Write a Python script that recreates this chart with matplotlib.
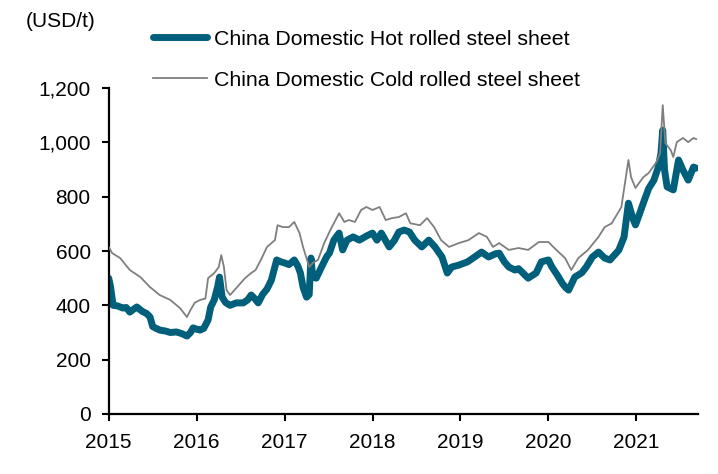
import matplotlib
matplotlib.use("Agg")
import matplotlib.pyplot as plt

plt.rcParams['font.family'] = ['Liberation Sans', 'DejaVu Sans']

# Hot rolled sheet price, USD/t (time in decimal years)
hot_t = [2015.00, 2015.02, 2015.05, 2015.10, 2015.16, 2015.20, 2015.24, 2015.28, 2015.32, 2015.38,
         2015.43, 2015.47, 2015.50, 2015.54, 2015.58, 2015.65, 2015.70, 2015.77, 2015.83, 2015.89,
         2015.93, 2015.96, 2016.00, 2016.04, 2016.08, 2016.13, 2016.16, 2016.20, 2016.24, 2016.26,
         2016.29, 2016.33, 2016.38, 2016.45, 2016.53, 2016.58, 2016.62, 2016.66, 2016.70, 2016.75,
         2016.80, 2016.85, 2016.91, 2016.96, 2017.00, 2017.05, 2017.11, 2017.15, 2017.18, 2017.21,
         2017.25, 2017.28, 2017.30, 2017.32, 2017.36, 2017.42, 2017.48, 2017.51, 2017.56, 2017.62,
         2017.66, 2017.71, 2017.78, 2017.85, 2017.93, 2018.00, 2018.05, 2018.10, 2018.19, 2018.25,
         2018.30, 2018.36, 2018.42, 2018.48, 2018.56, 2018.64, 2018.71, 2018.79, 2018.85, 2018.90,
         2018.98, 2019.08, 2019.17, 2019.24, 2019.32, 2019.40, 2019.44, 2019.50, 2019.55, 2019.62,
         2019.66, 2019.77, 2019.86, 2019.92, 2020.00, 2020.04, 2020.10, 2020.16, 2020.20, 2020.23,
         2020.30, 2020.38, 2020.43, 2020.50, 2020.57, 2020.64, 2020.70, 2020.80, 2020.86, 2020.91,
         2020.96, 2020.99, 2021.04, 2021.08, 2021.14, 2021.20, 2021.25, 2021.28, 2021.30, 2021.32,
         2021.35, 2021.42, 2021.48, 2021.53, 2021.59, 2021.65, 2021.68]
hot_v = [500, 470, 400, 398, 390, 392, 375, 385, 394, 378,
         370, 357, 322, 315, 309, 305, 300, 302, 296, 287,
         300, 317, 312, 309, 315, 346, 394, 420, 470, 504,
         430, 410, 400, 409, 409, 420, 438, 425, 409, 440,
         460, 493, 567, 560, 556, 550, 567, 545, 519, 467,
         430, 440, 574, 504, 500, 541, 580, 592, 640, 666,
         604, 640, 652, 640, 655, 666, 640, 666, 615, 640,
         670, 677, 670, 640, 615, 640, 615, 578, 519, 541,
         548, 560, 580, 596, 578, 590, 592, 560, 541, 530,
         535, 500, 519, 560, 567, 541, 512, 480, 464, 456,
         504, 520, 541, 578, 596, 574, 567, 603, 651, 776,
         720, 696, 740, 777, 830, 861, 909, 960, 1045, 900,
         836, 825, 935, 898, 861, 909, 905]

# Cold rolled sheet price, USD/t
cold_t = [2015.00, 2015.04, 2015.13, 2015.24, 2015.36, 2015.47, 2015.58, 2015.70, 2015.81, 2015.89,
          2015.93, 2015.98, 2016.04, 2016.10, 2016.13, 2016.20, 2016.25, 2016.28, 2016.31, 2016.34,
          2016.38, 2016.46, 2016.55, 2016.62, 2016.67, 2016.73, 2016.80, 2016.89, 2016.92, 2016.98,
          2017.05, 2017.11, 2017.17, 2017.21, 2017.28, 2017.32, 2017.38, 2017.45, 2017.52, 2017.62,
          2017.68, 2017.73, 2017.80, 2017.87, 2017.93, 2018.00, 2018.08, 2018.15, 2018.22, 2018.30,
          2018.38, 2018.43, 2018.54, 2018.62, 2018.70, 2018.78, 2018.87, 2018.98, 2019.09, 2019.21,
          2019.30, 2019.37, 2019.44, 2019.55, 2019.66, 2019.77, 2019.89, 2020.00, 2020.09, 2020.19,
          2020.26, 2020.34, 2020.45, 2020.57, 2020.64, 2020.72, 2020.83, 2020.91, 2020.94, 2020.99,
          2021.08, 2021.14, 2021.23, 2021.27, 2021.30, 2021.33, 2021.39, 2021.42, 2021.46, 2021.53,
          2021.59, 2021.65, 2021.68]
cold_v = [615, 592, 574, 530, 504, 467, 438, 420, 390, 357,
          383, 410, 420, 425, 500, 519, 540, 585, 541, 456,
          438, 467, 500, 519, 530, 567, 615, 640, 695, 688,
          688, 707, 666, 615, 541, 556, 567, 629, 677, 739,
          707, 714, 707, 751, 762, 751, 762, 714, 721, 725,
          739, 702, 695, 721, 688, 640, 615, 629, 640, 666,
          652, 615, 629, 604, 611, 604, 633, 633, 604, 574,
          530, 574, 604, 652, 688, 702, 762, 935, 872, 832,
          872, 887, 928, 960, 1137, 997, 972, 946, 1001, 1016,
          1001, 1016, 1012]

years = [2015, 2016, 2017, 2018, 2019, 2020, 2021]
y_ticks = [0, 200, 400, 600, 800, 1000, 1200]
labels = ['China Domestic Hot rolled steel sheet', 'China Domestic Cold rolled steel sheet']

fig = plt.figure(figsize=(7.18, 4.74), dpi=100)
ax = fig.add_axes([0.1514, 0.1266, 0.8206, 0.6877])

ax.plot(cold_t, cold_v, color='#7f7f7f', lw=1.3, label=labels[1], zorder=3)
ax.plot(hot_t, hot_v, color='#005f7a', lw=5, label=labels[0], zorder=2,
        solid_capstyle='round', solid_joinstyle='round')

ax.set_xlim(2015, 2021.70)
ax.set_ylim(0, 1200)
ax.set_xticks(years)
ax.set_xticklabels([str(y) for y in years])
ax.set_yticks(y_ticks)
ax.set_yticklabels([f'{v:,}' for v in y_ticks])

for s in ['top', 'right']:
    ax.spines[s].set_visible(False)
for s in ['left', 'bottom']:
    ax.spines[s].set_linewidth(1.6)
    ax.spines[s].set_color('black')
ax.tick_params(axis='both', direction='out', length=5, width=1.5, labelsize=15, colors='black')
ax.tick_params(axis='x', pad=9)
ax.tick_params(axis='y', pad=8)

fig.text(0.036, 0.955, '(USD/t)', fontsize=15, va='center', ha='left')

h, l = ax.get_legend_handles_labels()
order = [1, 0]
fig.legend([h[i] for i in order], [l[i] for i in order], loc='upper left',
           bbox_to_anchor=(0.213, 0.937), frameon=False, fontsize=15.3,
           handlelength=2.55, handletextpad=0.34, labelspacing=1.02, borderpad=0, borderaxespad=0)

fig.savefig('out.png', dpi=100)
